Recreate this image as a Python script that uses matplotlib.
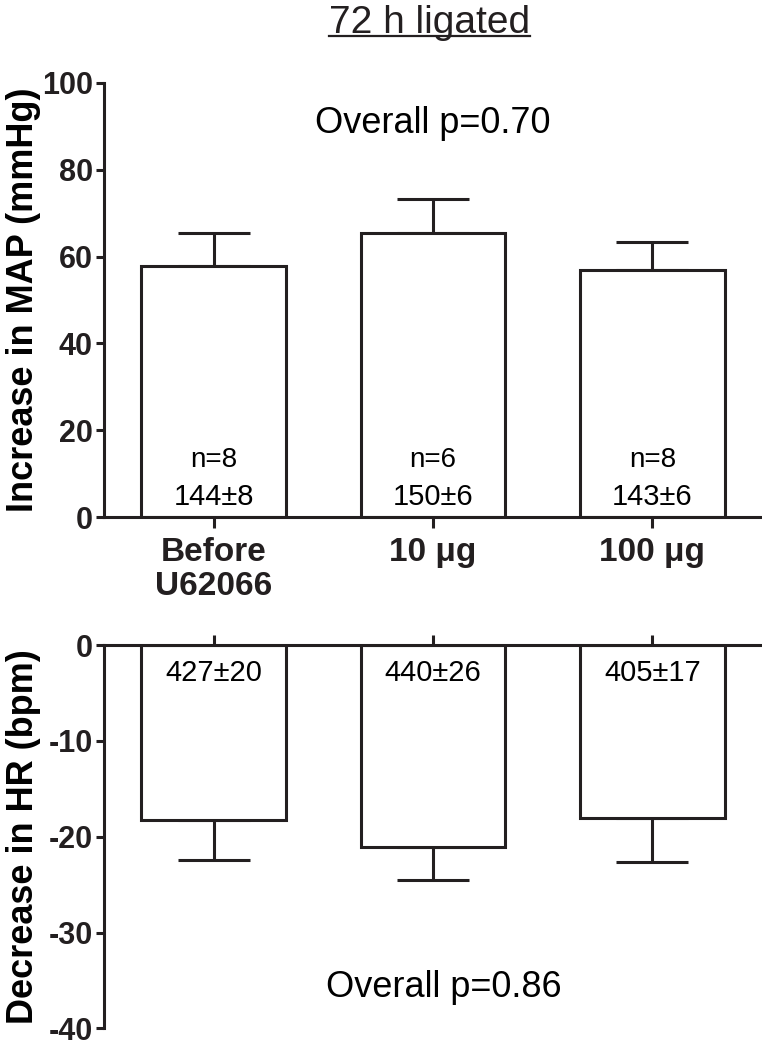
import matplotlib
matplotlib.use("Agg")
import matplotlib.pyplot as plt
import numpy as np

# data
groups = ["Before\nU62066", "10 μg", "100 μg"]
map_mean = [57.7, 65.3, 56.9]
map_sem = [7.6, 7.9, 6.4]
map_n = ["n=8", "n=6", "n=8"]
map_base = ["144±8", "150±6", "143±6"]
hr_mean = [-18.3, -21.1, -18.0]
hr_sem = [4.1, 3.4, 4.6]
hr_base = ["427±20", "440±26", "405±17"]
p_map = "Overall p=0.70"
p_hr = "Overall p=0.86"

plt.rcParams["font.family"] = ["Liberation Sans", "DejaVu Sans"]
ink = "#231f20"
lw = 2.2

fig = plt.figure(figsize=(7.62, 10.49), dpi=100)
ax1 = fig.add_axes([0.1365, 0.5069, 0.8635, 0.4143])
ax2 = fig.add_axes([0.1365, 0.0197, 0.8635, 0.3654])

x = np.arange(len(groups))
w = 0.66


def style(ax):
    for s in ax.spines.values():
        s.set_linewidth(lw)
        s.set_color(ink)
    ax.tick_params(axis="y", direction="out", length=6, width=lw, pad=2, colors=ink)
    ax.tick_params(axis="x", direction="out", width=lw, colors=ink)
    for lab in ax.get_yticklabels():
        lab.set_fontweight("bold")
        lab.set_fontsize(22)


# top panel: increase in MAP
ax1.bar(x, map_mean, width=w, color="white", edgecolor=ink, linewidth=lw, zorder=2)
ax1.errorbar(x, map_mean, yerr=[np.zeros(3), map_sem], fmt="none", ecolor=ink,
             elinewidth=lw, capsize=26, capthick=lw, zorder=1)
ax1.set_xlim(-0.5, 2.5)
ax1.set_ylim(0, 100)
ax1.set_yticks([0, 20, 40, 60, 80, 100])
ax1.set_xticks(x)
ax1.set_xticklabels(groups, fontweight="bold", fontsize=24, linespacing=1.15)
ax1.spines["top"].set_visible(False)
ax1.spines["right"].set_visible(False)
style(ax1)
ax1.tick_params(axis="x", length=8, pad=6)
ax1.set_ylabel("Increase in MAP (mmHg)", fontweight="bold", fontsize=26)
ax1.yaxis.set_label_coords(-0.096, 0.5)
for i in range(len(groups)):
    ax1.text(x[i], 11.5, map_n[i], ha="center", va="baseline", fontsize=20)
    ax1.text(x[i], 2.8, map_base[i], ha="center", va="baseline", fontsize=21)
ax1.text(0.5, 88.5, p_map, ha="center", va="baseline", fontsize=26,
         transform=ax1.get_yaxis_transform())

# bottom panel: decrease in HR
ax2.bar(x, hr_mean, width=w, color="white", edgecolor=ink, linewidth=lw, zorder=2)
ax2.errorbar(x, hr_mean, yerr=[hr_sem, np.zeros(3)], fmt="none", ecolor=ink,
             elinewidth=lw, capsize=26, capthick=lw, zorder=1)
ax2.set_xlim(-0.5, 2.5)
ax2.set_ylim(-40, 0)
ax2.set_yticks([0, -10, -20, -30, -40])
ax2.set_yticklabels(["0", "-10", "-20", "-30", "-40"])
ax2.xaxis.tick_top()
ax2.set_xticks(x)
ax2.set_xticklabels([])
ax2.spines["bottom"].set_visible(False)
ax2.spines["right"].set_visible(False)
style(ax2)
ax2.tick_params(axis="x", length=7)
ax2.set_ylabel("Decrease in HR (bpm)", fontweight="bold", fontsize=26)
ax2.yaxis.set_label_coords(-0.096, 0.5)
for i in range(len(groups)):
    ax2.text(x[i], -3.8, hr_base[i], ha="center", va="baseline", fontsize=21)
ax2.text(0.517, -36.7, p_hr, ha="center", va="baseline", fontsize=26,
         transform=ax2.get_yaxis_transform())

# underlined title
ty = 1 - 33 / 1049
t = fig.text(0.5636, ty, "72 h ligated", ha="center", va="baseline", fontsize=28, color=ink)
fig.canvas.draw()
bb = t.get_window_extent().transformed(fig.transFigure.inverted())
uy = ty - 3 / 1049
fig.add_artist(plt.Line2D([bb.x0, bb.x1], [uy, uy], color=ink,
                          linewidth=1.6, transform=fig.transFigure))

fig.savefig("out.png", dpi=100)
